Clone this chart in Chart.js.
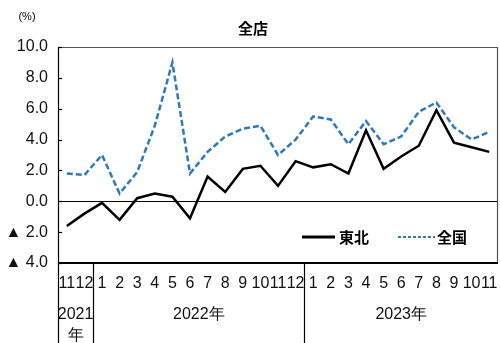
<!DOCTYPE html>
<html>
<head>
<meta charset="utf-8">
<script src="https://cdn.jsdelivr.net/npm/chart.js@4/dist/chart.umd.min.js"></script>
<style>
  html, body { margin: 0; padding: 0; background: #fff; }
  #wrap { width: 500px; height: 343px; }
</style>
</head>
<body>
<div id="wrap"><canvas id="c" width="500" height="343"></canvas></div>
<script>
// Month labels along the bottom axis (Nov 2021 – Nov 2023)
const months = ['11','12','1','2','3','4','5','6','7','8','9','10','11','12',
                '1','2','3','4','5','6','7','8','9','10','11'];
// Year groups: label and number of months they cover
const yearLabels = ['2021\n年', '2022年', '2023年'];
const yearSpans  = [2, 12, 11];

// Year-on-year change (%), 全店
const tohoku = [-1.6, -0.8, -0.1, -1.2, 0.2, 0.5, 0.3, -1.1, 1.6, 0.6, 2.1, 2.3,
                1.0, 2.6, 2.2, 2.4, 1.8, 4.6, 2.1, 2.9, 3.6, 5.9, 3.8, 3.5, 3.2];
const zenkoku = [1.8, 1.7, 3.0, 0.5, 1.9, 4.9, 9.0, 1.8, 3.2, 4.2, 4.7, 4.9,
                 3.0, 4.0, 5.5, 5.3, 3.7, 5.2, 3.7, 4.2, 5.8, 6.4, 4.8, 4.0, 4.5];

const yTicks = [10, 8, 6, 4, 2, 0, -2, -4];

const FONT = "'Liberation Sans Narrow', 'Arial Narrow', 'Liberation Sans', sans-serif";
const JP = "'Noto Sans CJK JP', sans-serif";
const BLUE = '#2e7ab8';

const frame = {
  id: 'frame',
  beforeDatasetsDraw(chart) {
    const {ctx, chartArea: a, scales: {y}} = chart;
    ctx.save();
    ctx.strokeStyle = '#000';
    ctx.lineWidth = 1.2;
    const y0 = Math.round(y.getPixelForValue(0)) + 0.5;
    ctx.beginPath(); ctx.moveTo(a.left, y0); ctx.lineTo(a.right, y0); ctx.stroke();
    ctx.restore();
  },
  afterDraw(chart) {
    const {ctx, chartArea: a, scales: {x, y}} = chart;
    const H = chart.height;
    ctx.save();
    // top and right border
    ctx.strokeStyle = '#555';
    ctx.lineWidth = 1.2;
    ctx.beginPath();
    ctx.moveTo(a.left, a.top + 0.5); ctx.lineTo(a.right - 0.5, a.top + 0.5);
    ctx.lineTo(a.right - 0.5, a.bottom);
    ctx.stroke();
    // left axis with inward ticks
    ctx.strokeStyle = '#000';
    ctx.beginPath();
    ctx.moveTo(a.left + 0.5, a.top); ctx.lineTo(a.left + 0.5, H);
    ctx.stroke();
    yTicks.forEach(v => {
      const py = Math.round(y.getPixelForValue(v)) + 0.5;
      ctx.beginPath(); ctx.moveTo(a.left, py); ctx.lineTo(a.left + 4, py); ctx.stroke();
    });
    // bottom axis line
    ctx.lineWidth = 2.2;
    ctx.beginPath(); ctx.moveTo(a.left, a.bottom); ctx.lineTo(a.right, a.bottom); ctx.stroke();

    // month labels
    ctx.fillStyle = '#111';
    ctx.font = '16px ' + FONT;
    ctx.textAlign = 'center';
    ctx.textBaseline = 'middle';
    months.forEach((m, i) => ctx.fillText(m, x.getPixelForValue(i), a.bottom + 21));

    // year groups with separators
    const step = x.getPixelForValue(1) - x.getPixelForValue(0);
    let start = 0;
    ctx.lineWidth = 1.2;
    yearSpans.forEach((n, k) => {
      const l = x.getPixelForValue(start) - step / 2;
      const r = x.getPixelForValue(start + n - 1) + step / 2;
      const cx = (l + r) / 2;
      const lines = yearLabels[k].split('\n');
      lines.forEach((t, j) => {
        ctx.font = '16px ' + FONT;
        ctx.fillText(t, cx, a.bottom + 52 + j * 21);
      });
      if (k < yearSpans.length - 1) {
        const sx = Math.round(r) + 0.5;
        ctx.beginPath(); ctx.moveTo(sx, a.bottom); ctx.lineTo(sx, H); ctx.stroke();
      }
      start += n;
    });

    // title and unit
    ctx.font = 'bold 15px ' + JP;
    ctx.fillStyle = '#000';
    ctx.fillText('全店', 253, 28);
    ctx.font = '11px ' + FONT;
    ctx.fillText('(%)', 27, 17);

    // legend
    const ly = 237;
    ctx.lineWidth = 3;
    ctx.strokeStyle = '#000';
    ctx.beginPath(); ctx.moveTo(302, ly); ctx.lineTo(335, ly); ctx.stroke();
    ctx.setLineDash([3, 2]);
    ctx.lineWidth = 2;
    ctx.strokeStyle = BLUE;
    ctx.beginPath(); ctx.moveTo(398, ly); ctx.lineTo(435, ly); ctx.stroke();
    ctx.setLineDash([]);
    ctx.font = 'bold 15px ' + JP;
    ctx.textAlign = 'left';
    ctx.fillStyle = '#000';
    ctx.fillText('東北', 339, ly);
    ctx.fillText('全国', 437, ly);
    ctx.restore();
  }
};

new Chart(document.getElementById('c'), {
  type: 'line',
  data: {
    labels: months,
    datasets: [
      { label: '東北', data: tohoku, borderColor: '#000', borderWidth: 2.5,
        pointRadius: 0, tension: 0, fill: false },
      { label: '全国', data: zenkoku, borderColor: BLUE, borderWidth: 2.5,
        borderDash: [6, 3], pointRadius: 0, tension: 0, fill: false }
    ]
  },
  options: {
    responsive: false,
    animation: false,
    events: [],
    layout: { padding: { left: 0, top: 47, right: 2, bottom: 80 } },
    plugins: { legend: { display: false }, title: { display: false }, tooltip: { enabled: false } },
    scales: {
      x: { type: 'category', offset: true, display: false },
      y: {
        min: -4, max: 10,
        afterFit(s) { s.width = 58; },
        afterBuildTicks(s) { s.ticks = yTicks.map(v => ({ value: v })); },
        grid: { display: false, drawTicks: false },
        border: { display: false },
        ticks: {
          padding: 10,
          color: '#111',
          font: { family: FONT, size: 16 },
          callback: v => v < 0 ? '▲ ' + Math.abs(v).toFixed(1) : v.toFixed(1)
        }
      }
    }
  },
  plugins: [frame]
});
</script>
</body>
</html>
